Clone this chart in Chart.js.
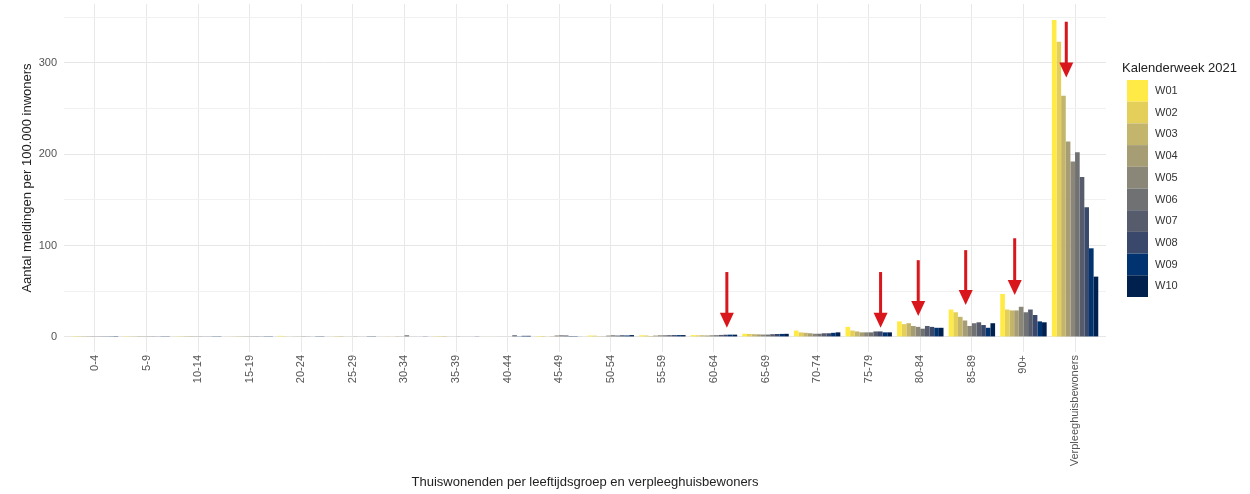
<!DOCTYPE html>
<html>
<head>
<meta charset="utf-8">
<script src="https://cdn.jsdelivr.net/npm/chart.js@4/dist/chart.umd.min.js"></script>
<style>
  html, body { margin: 0; padding: 0; background: #fff; }
  #wrap { width: 1250px; height: 494px; }
</style>
</head>
<body>
<div id="wrap"><canvas id="c" width="1250" height="494"></canvas></div>
<script>
// age groups plus nursing home residents
var categories = ['0-4', '5-9', '10-14', '15-19', '20-24', '25-29', '30-34', '35-39', '40-44', '45-49',
	'50-54', '55-59', '60-64', '65-69', '70-74', '75-79', '80-84', '85-89', '90+', 'Verpleeghuisbewoners']

var weeks = ['W01', 'W02', 'W03', 'W04', 'W05', 'W06', 'W07', 'W08', 'W09', 'W10']

// reports per 100.000, one array per calendar week
var w01 = [0.2, 0.2, 0.3, 0.5, 1.2, 0.6, 0.5, 0.8, 0.6, 1.0, 1.5, 1.8, 2.0, 3.5, 7, 11, 17, 30, 47, 347]
var w02 = [0.2, 0.3, 0.3, 0.4, 0.8, 0.9, 0.4, 0.9, 0.5, 1.0, 1.4, 1.6, 1.8, 3.2, 5, 7, 14, 27, 30, 323]
var w03 = [0.2, 0.3, 0.2, 0.3, 0.5, 0.9, 0.6, 0.9, 0.5, 0.6, 0.8, 1.0, 1.8, 3.0, 4.5, 6, 15, 22, 29, 264]
var w04 = [0.2, 0.2, 0.2, 0.3, 0.4, 0.6, 0.8, 0.6, 0.6, 0.8, 0.8, 1.5, 1.6, 2.8, 4, 5, 12, 18, 29, 214]
var w05 = [0.2, 0.3, 0.3, 0.3, 0.4, 0.5, 0.7, 0.6, 0.6, 1.6, 1.5, 1.8, 1.8, 2.6, 3.5, 5, 11, 12, 33, 192]
var w06 = [0.3, 0.3, 0.3, 0.3, 0.3, 0.4, 1.8, 0.4, 0.6, 1.8, 1.8, 1.8, 1.9, 2.6, 3.5, 5, 9, 15, 27, 202]
var w07 = [0.3, 0.3, 0.4, 0.3, 0.4, 0.5, 0.6, 0.5, 1.8, 1.6, 1.5, 1.9, 2.2, 3.0, 4, 6, 12, 16, 30, 175]
var w08 = [0.3, 0.4, 0.4, 0.4, 0.5, 0.5, 0.5, 0.6, 0.8, 1.0, 1.8, 2.0, 2.4, 3.2, 4, 6, 11, 13, 24, 142]
var w09 = [0.3, 0.3, 0.3, 0.3, 0.3, 0.3, 0.5, 0.5, 1.2, 0.9, 1.6, 2.0, 2.5, 3.3, 4.5, 5, 10, 10, 17, 97]
var w10 = [0.2, 0.3, 0.3, 0.3, 0.3, 0.3, 0.4, 0.4, 1.2, 0.6, 2.0, 2.0, 2.5, 3.4, 5, 5, 10, 15, 16, 66]

var weekColors = ['#FFEA46', '#E4CF5B', '#C4B56C', '#A69D75', '#8A8779', '#707173', '#575C6D', '#39486B', '#00336F', '#00204D']

// red arrows: category index, shift within the group, start and end value
var arrowCat = [12, 15, 16, 17, 18, 19]
var arrowShift = [0.25, 0.23, -0.04, -0.12, -0.17, -0.17]
var arrowFrom = [71, 71, 84, 95, 108, 345]
var arrowTo = [10, 10, 23, 35, 46, 284]

var font = "'Liberation Sans', Arial, sans-serif"
var series = [w01, w02, w03, w04, w05, w06, w07, w08, w09, w10]

var datasets = []
for (var i = 0; i < weeks.length; i++) {
	datasets.push({
		label: weeks[i],
		data: series[i],
		backgroundColor: weekColors[i],
		borderWidth: 0,
		categoryPercentage: 0.9,
		barPercentage: 1.0,
	})
}

var arrowPlugin = {
	id: 'arrows',
	afterDatasetsDraw: function (chart) {
		var ctx = chart.ctx
		var xs = chart.scales.x, ys = chart.scales.y
		ctx.save()
		ctx.strokeStyle = '#D8161B'
		ctx.fillStyle = '#D8161B'
		for (var i = 0; i < arrowCat.length; i++) {
			var x = xs.getPixelForValue(arrowCat[i] + arrowShift[i])
			var y0 = ys.getPixelForValue(arrowFrom[i])
			var y1 = ys.getPixelForValue(arrowTo[i])
			ctx.lineWidth = 3
			ctx.beginPath()
			ctx.moveTo(x, y0)
			ctx.lineTo(x, y1 - 12)
			ctx.stroke()
			ctx.beginPath()
			ctx.moveTo(x - 7, y1 - 15)
			ctx.lineTo(x + 7, y1 - 15)
			ctx.lineTo(x, y1)
			ctx.closePath()
			ctx.fill()
		}
		ctx.restore()
	},
}

var legendPlugin = {
	id: 'weekLegend',
	afterDraw: function (chart) {
		var ctx = chart.ctx
		ctx.save()
		ctx.fillStyle = '#222'
		ctx.font = '13px ' + font
		ctx.textAlign = 'left'
		ctx.textBaseline = 'middle'
		ctx.fillText('Kalenderweek 2021', 1122, 68)
		var ds = chart.data.datasets
		for (var i = 0; i < ds.length; i++) {
			var top = 80 + i * 21.7
			ctx.fillStyle = ds[i].backgroundColor
			ctx.fillRect(1127, top, 21, 21.7)
			ctx.fillStyle = '#333'
			ctx.font = '11px ' + font
			ctx.fillText(ds[i].label, 1155, top + 11)
		}
		ctx.restore()
	},
}

var chart = new Chart(document.getElementById('c').getContext('2d'), {
	type: 'bar',
	data: { labels: categories.map(function (c, i) { return i }), datasets: datasets },
	options: {
		responsive: false,
		animation: false,
		layout: { padding: { left: 0, right: 144, top: 4, bottom: 0 } },
		plugins: { legend: { display: false }, tooltip: { enabled: false } },
		scales: {
			x: {
				type: 'linear',
				min: -0.6,
				max: 19.6,
				offset: false,
				grid: { offset: false, color: '#e8e8e8', drawTicks: false },
				border: { display: false },
				ticks: {
					stepSize: 1,
					includeBounds: false,
					autoSkip: false,
					minRotation: 90,
					maxRotation: 90,
					padding: 3,
					color: '#555',
					font: { family: font, size: 11 },
					callback: function (v) { return categories[v] },
				},
				title: {
					display: true,
					text: 'Thuiswonenden per leeftijdsgroep en verpleeghuisbewoners',
					color: '#222',
					font: { family: font, size: 13 },
					padding: { top: 0, bottom: 4 },
				},
				afterFit: function (s) { s.height = 142 },
			},
			y: {
				min: -16.5,
				max: 364.4,
				grid: {
					drawTicks: false,
					color: function (c) { return c.tick && c.tick.value % 100 === 0 ? '#e6e6e6' : '#f1f1f1' },
				},
				border: { display: false },
				ticks: {
					stepSize: 50,
					includeBounds: false,
					padding: 7,
					color: '#555',
					font: { family: font, size: 11 },
					callback: function (v) { return v % 100 === 0 ? v : '' },
				},
				title: {
					display: true,
					text: 'Aantal meldingen per 100.000 inwoners',
					color: '#222',
					font: { family: font, size: 13 },
					padding: { top: 20, bottom: 0 },
				},
				afterFit: function (s) {
					s.width = 64
					s.paddingTop = 0
					s.paddingBottom = 0
				},
			},
		},
	},
	plugins: [arrowPlugin, legendPlugin],
})
</script>
</body>
</html>
